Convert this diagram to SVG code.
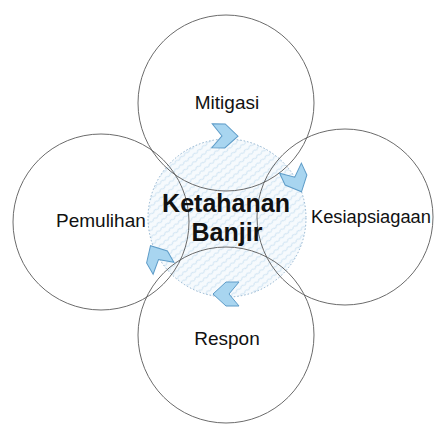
<svg xmlns="http://www.w3.org/2000/svg" width="434" height="424" viewBox="0 0 434 424">
  <defs>
    <pattern id="hatch" width="6" height="6" patternUnits="userSpaceOnUse" patternTransform="rotate(-40)">
      <rect width="6" height="6" fill="#f6fafd"/>
      <path d="M0 3 Q1.5 1.5 3 3 T6 3" fill="none" stroke="#c3dcef" stroke-width="0.9"/>
    </pattern>
    <path id="chev" d="M-13 -12 L0 -12 L13 0 L0 12 L-13 12 L-3 0 Z"/>
  </defs>
  <style>
    .ring { fill: none; stroke: #5a5a5a; stroke-width: 0.9; }
    .lbl { font-family: "Liberation Sans", Arial, sans-serif; font-size: 19px; fill: #111; }
    .core { font-family: "Liberation Sans", Arial, sans-serif; font-size: 25px; font-weight: bold; fill: #111; text-anchor: middle; }
    .arrow { fill: #a8d5f0; stroke: #5e9cc8; stroke-width: 1; }
  </style>
  <rect width="434" height="424" fill="#ffffff"/>
  <g id="core">
    <circle cx="227" cy="218" r="79" fill="url(#hatch)" stroke="#8fb2cf" stroke-width="1" stroke-dasharray="1.5 2"/>
  </g>
  <g id="mitigasi">
    <circle class="ring" cx="226" cy="103" r="88"/>
    <text class="lbl" x="227" y="109" text-anchor="middle">Mitigasi</text>
  </g>
  <g id="pemulihan">
    <circle class="ring" cx="101" cy="222" r="88"/>
    <text class="lbl" x="56" y="227">Pemulihan</text>
  </g>
  <g id="kesiapsiagaan">
    <circle class="ring" cx="345" cy="217" r="88"/>
    <text class="lbl" x="311" y="223" style="font-size:18.3px">Kesiapsiagaan</text>
  </g>
  <g id="respon">
    <circle class="ring" cx="226" cy="335" r="88"/>
    <text class="lbl" x="227" y="345" text-anchor="middle">Respon</text>
  </g>
  <g id="connectors">
    <use href="#chev" class="arrow" transform="translate(225 136) rotate(1)"/>
    <use href="#chev" class="arrow" transform="translate(296 180) rotate(65)"/>
    <use href="#chev" class="arrow" transform="translate(226 294) rotate(180)"/>
    <use href="#chev" class="arrow" transform="translate(157 257) rotate(-120)"/>
  </g>
  <g id="label">
    <text class="core" x="226" y="212">Ketahanan</text>
    <text class="core" x="227" y="241">Banjir</text>
  </g>
</svg>
